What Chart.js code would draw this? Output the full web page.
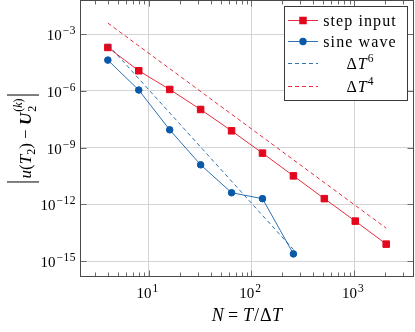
<!DOCTYPE html>
<html><head><meta charset="utf-8">
<script src="https://cdn.jsdelivr.net/npm/chart.js@4.4.1/dist/chart.umd.min.js"></script>
<style>html,body{margin:0;padding:0;background:#fff;}canvas{display:block;}</style>
</head><body>
<canvas id="c" width="415" height="332"></canvas>
<script>
// ---- data ----
const nStep = [4, 8, 16, 32, 64, 128, 256, 512, 1024, 2048];
const errStep = [1.96e-4, 1.15e-5, 1.18e-6, 1.03e-7, 7.7e-9, 5.1e-10, 3.2e-11, 2.0e-12, 1.3e-13, 7.9e-15];
const nSine = [4, 8, 16, 32, 64, 128, 256];
const errSine = [4.2e-5, 1.1e-6, 8.7e-9, 1.23e-10, 4.1e-12, 2.0e-12, 2.4e-15];
const nRef6 = [4, 256];
const errRef6 = [2.8e-4, 4.1e-15];
const nRef4 = [4, 2048];
const errRef4 = [3.8e-3, 5.5e-14];
const seriesLabels = ['step input', 'sine wave', 'ΔT⁶', 'ΔT⁴'];
const xTickExps = [1, 2, 3];
const xMinorMantissas = [2, 3, 4, 5, 6, 7, 8, 9];
const yTickExps = [-15, -12, -9, -6, -3];

const RED = '#e3071d', BLUE = '#0a59a8';
const SERIF = '"Liberation Serif","DejaVu Serif",serif';
const F = (size, style) => ((style ? style + ' ' : '') + size + 'px ' + SERIF);
const pts = (xs, ys) => xs.map((x, i) => ({x: x, y: ys[i]}));

function setLS(ctx, p) { try { ctx.letterSpacing = (p.ls || 0) + 'px'; } catch (e) {} }
function runWidth(ctx, parts) {
  let w = 0;
  for (const p of parts) { ctx.font = p.f; setLS(ctx, p); w += ctx.measureText(p.t).width + (p.gap || 0); }
  setLS(ctx, {});
  return w;
}
function drawRun(ctx, parts, x, y, align) {
  const w = runWidth(ctx, parts);
  let cx = align === 'center' ? x - w / 2 : (align === 'right' ? x - w : x);
  ctx.textAlign = 'left'; ctx.textBaseline = 'alphabetic';
  for (const p of parts) {
    ctx.font = p.f; setLS(ctx, p);
    ctx.fillText(p.t, cx, y + (p.dy || 0));
    cx += ctx.measureText(p.t).width + (p.gap || 0);
  }
  setLS(ctx, {});
  return w;
}
function powParts(e, size, supSize, dy) {
  const s = e < 0 ? '\u2212' + Math.abs(e) : String(e);
  return [{t: '10', f: F(size), gap: 1}, {t: s, f: F(supSize), dy: dy, ls: 0.5}];
}

const decor = {
  id: 'decor',
  afterDraw(chart) {
    const ctx = chart.ctx, ca = chart.chartArea, xs = chart.scales.x, ys = chart.scales.y;
    ctx.save();
    // tick marks
    ctx.lineWidth = 1;
    ctx.strokeStyle = '#6a6a6a';
    const L = ca.left + 0.5, R = ca.right - 0.5, T = ca.top + 0.5, B = ca.bottom - 0.5;
    ctx.beginPath();
    for (const e of xTickExps) {
      const px = Math.round(xs.getPixelForValue(Math.pow(10, e))) + 0.5;
      ctx.moveTo(px, B); ctx.lineTo(px, B - 6);
      ctx.moveTo(px, T); ctx.lineTo(px, T + 6);
    }
    for (let e = 0; e <= 3; e++) {
      for (const m of xMinorMantissas) {
        const v = m * Math.pow(10, e);
        if (v < xs.min || v > xs.max) continue;
        const px = Math.round(xs.getPixelForValue(v)) + 0.5;
        ctx.moveTo(px, B); ctx.lineTo(px, B - 4);
        ctx.moveTo(px, T); ctx.lineTo(px, T + 4);
      }
    }
    for (const e of yTickExps) {
      const py = Math.round(ys.getPixelForValue(Math.pow(10, e))) + 0.5;
      ctx.moveTo(L, py); ctx.lineTo(L + 6, py);
      ctx.moveTo(R, py); ctx.lineTo(R - 6, py);
    }
    ctx.stroke();
    // frame
    ctx.strokeStyle = '#4a4a4a';
    ctx.strokeRect(L, T, R - L, B - T);

    // tick labels
    ctx.fillStyle = '#000';
    for (const e of yTickExps) {
      const py = ys.getPixelForValue(Math.pow(10, e));
      drawRun(ctx, powParts(e, 15, 11.5, -6), 76, py + 6, 'right');
    }
    for (const e of xTickExps) {
      const px = xs.getPixelForValue(Math.pow(10, e));
      drawRun(ctx, powParts(e, 15, 11.5, -6), px - 1, 298, 'center');
    }
    // x title
    drawRun(ctx, [
      {t: 'N', f: F(18, 'italic'), gap: 4}, {t: '=', f: F(18), gap: 5}, {t: 'T', f: F(18, 'italic'), gap: 1},
      {t: '/', f: F(18), gap: 1}, {t: 'Δ', f: F(18), gap: 0.5}, {t: 'T', f: F(18, 'italic')}
    ], (ca.left + ca.right) / 2, 321, 'center');

    // y title (rotated)
    ctx.save();
    ctx.translate(31, (ca.top + ca.bottom) / 2);
    ctx.rotate(-Math.PI / 2);
    const fs = 17, fsub = 12;
    const mainParts = [
      {t: 'u', f: F(fs, 'italic')}, {t: '(', f: F(fs)}, {t: 'T', f: F(fs, 'italic')},
      {t: '2', f: F(fsub), dy: 4}, {t: ')', f: F(fs)}, {t: ' \u2212 ', f: F(fs)}, {t: 'U', f: F(fs, 'italic bold')}
    ];
    const subParts = [{t: '2', f: F(fsub)}];
    const supParts = [{t: '(', f: F(fsub)}, {t: 'k', f: F(fsub, 'italic')}, {t: ')', f: F(fsub)}];
    const wMain = runWidth(ctx, mainParts), wSub = runWidth(ctx, subParts), wSup = runWidth(ctx, supParts);
    const gap = 3;
    const total = 1 + gap + wMain + 1 + Math.max(wSub, wSup) + gap + 1;
    let x = -total / 2;
    ctx.strokeStyle = '#000'; ctx.lineWidth = 1;
    ctx.beginPath(); ctx.moveTo(x + 0.5, -24); ctx.lineTo(x + 0.5, 8); ctx.stroke();
    x += 1 + gap;
    drawRun(ctx, mainParts, x, 0, 'left'); x += wMain + 1;
    drawRun(ctx, subParts, x, 5, 'left');
    drawRun(ctx, supParts, x, -9, 'left');
    x += Math.max(wSub, wSup) + gap;
    ctx.beginPath(); ctx.moveTo(x + 0.5, -24); ctx.lineTo(x + 0.5, 8); ctx.stroke();
    ctx.restore();

    // legend
    const lx0 = 284.5, ly0 = 6.5, lx1 = 407.5, ly1 = 100.5;
    ctx.fillStyle = '#fff';
    ctx.fillRect(lx0, ly0, lx1 - lx0, ly1 - ly0);
    ctx.strokeStyle = '#3a3a3a'; ctx.lineWidth = 1;
    ctx.strokeRect(lx0, ly0, lx1 - lx0, ly1 - ly0);
    const rows = [20.5, 41.5, 63.5, 86.5];
    const sx0 = 288, sx1 = 318, tx = 360;
    const ds = chart.data.datasets;
    const labelParts = [
      [{t: seriesLabels[0], f: F(16), ls: 1.1}],
      [{t: seriesLabels[1], f: F(16), ls: 1.1}],
      [{t: 'Δ', f: F(16), gap: 1}, {t: 'T', f: F(16, 'italic'), gap: 1}, {t: '6', f: F(11.5), dy: -7}],
      [{t: 'Δ', f: F(16), gap: 1}, {t: 'T', f: F(16, 'italic'), gap: 1}, {t: '4', f: F(11.5), dy: -7}]
    ];
    for (let i = 0; i < 4; i++) {
      const d = ds[i], y = rows[i];
      ctx.save();
      ctx.strokeStyle = d.borderColor; ctx.lineWidth = d.borderWidth;
      ctx.setLineDash(d.borderDash || []);
      ctx.beginPath(); ctx.moveTo(sx0, y); ctx.lineTo(sx1, y); ctx.stroke();
      ctx.setLineDash([]);
      ctx.fillStyle = d.backgroundColor;
      const mx = (sx0 + sx1) / 2;
      if (d.pointStyle === 'rect') { ctx.fillRect(mx - 3.75, y - 3.75, 7.5, 7.5); }
      else if (d.pointRadius > 0) { ctx.beginPath(); ctx.arc(mx, y, 3.7, 0, Math.PI * 2); ctx.fill(); }
      ctx.restore();
      ctx.fillStyle = '#000';
      drawRun(ctx, labelParts[i], tx, y + 5, 'center');
    }
    ctx.restore();
  }
};

new Chart(document.getElementById('c'), {
  type: 'line',
  data: {
    datasets: [
      {label: seriesLabels[0], data: pts(nStep, errStep), borderColor: RED, backgroundColor: RED,
       borderWidth: 0.85, pointStyle: 'rect', pointRadius: 4.6, pointBorderWidth: 1, order: 4},
      {label: seriesLabels[1], data: pts(nSine, errSine), borderColor: BLUE, backgroundColor: BLUE,
       borderWidth: 0.85, pointStyle: 'circle', pointRadius: 3.3, pointBorderWidth: 1, order: 3},
      {label: seriesLabels[2], data: pts(nRef6, errRef6), borderColor: BLUE, backgroundColor: BLUE,
       borderWidth: 0.85, borderDash: [4, 3], pointRadius: 0, order: 2},
      {label: seriesLabels[3], data: pts(nRef4, errRef4), borderColor: RED, backgroundColor: RED,
       borderWidth: 0.85, borderDash: [4, 3], pointRadius: 0, order: 1}
    ]
  },
  options: {
    responsive: false, animation: false, devicePixelRatio: 1,
    layout: {autoPadding: false, padding: {top: 0, right: 1, left: 0, bottom: 0}},
    plugins: {legend: {display: false}, tooltip: {enabled: false}},
    scales: {
      x: {
        type: 'logarithmic', min: Math.pow(10, 0.331), max: Math.pow(10, 3.582),
        afterBuildTicks: s => { s.ticks = xTickExps.map(e => ({value: Math.pow(10, e)})); },
        afterFit: s => { s.height = 55; },
        ticks: {display: false},
        grid: {color: '#d4d4d4', lineWidth: 1, drawTicks: false},
        border: {display: false}
      },
      y: {
        type: 'logarithmic', min: Math.pow(10, -15.84), max: Math.pow(10, -1.2),
        afterBuildTicks: s => { s.ticks = yTickExps.map(e => ({value: Math.pow(10, e)})); },
        afterFit: s => { s.width = 80; },
        ticks: {display: false},
        grid: {color: '#d4d4d4', lineWidth: 1, drawTicks: false},
        border: {display: false}
      }
    }
  },
  plugins: [decor]
});
</script>
</body></html>
